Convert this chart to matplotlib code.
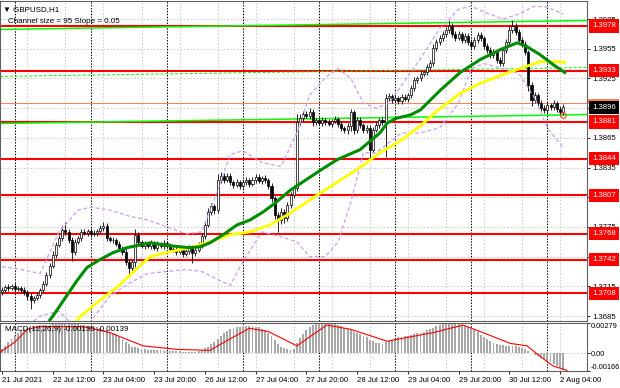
import numpy as np
import matplotlib.pyplot as plt
import matplotlib.transforms as mtransforms
from matplotlib.patches import Rectangle

plt.rcParams['font.family'] = ['Liberation Sans', 'DejaVu Sans']

# ---- data (GBPUSD H1, 21 Jul 20:00 .. 2 Aug 05:00) ----
first_open = 1.3709
closes = [
    1.3711, 1.3714, 1.3713, 1.3715, 1.3712, 1.3713, 1.3711, 1.3709, 1.3705, 1.3701,
    1.3703, 1.3706, 1.3711, 1.3717, 1.3726, 1.3736, 1.3747, 1.3757, 1.3764, 1.3772,
    1.3770, 1.3762, 1.3750, 1.3760, 1.3764, 1.3770, 1.3769, 1.3771, 1.3768, 1.3769,
    1.3771, 1.3774, 1.3776, 1.3764, 1.3762, 1.3762, 1.3758, 1.3754, 1.3750, 1.3740,
    1.3734, 1.3740, 1.3767, 1.3760, 1.3756, 1.3758, 1.3756, 1.3759, 1.3754, 1.3758,
    1.3756, 1.3759, 1.3756, 1.3753, 1.3752, 1.3750, 1.3752, 1.3748, 1.3751, 1.3754,
    1.3749, 1.3752, 1.3757, 1.3766, 1.3777, 1.3790, 1.3796, 1.3792, 1.3822, 1.3826,
    1.3822, 1.3826, 1.3820, 1.3817, 1.3820, 1.3816, 1.3820, 1.3822, 1.3818, 1.3822,
    1.3825, 1.3821, 1.3824, 1.3822, 1.3816, 1.3804, 1.3787, 1.3782, 1.3790, 1.3784,
    1.3797, 1.3807, 1.3814, 1.3881, 1.3885, 1.3889, 1.3887, 1.3891, 1.3881, 1.3883,
    1.3880, 1.3883, 1.3881, 1.3879, 1.3882, 1.3884, 1.3879, 1.3875, 1.3873, 1.3877,
    1.3891, 1.3873, 1.3883, 1.3878, 1.3873, 1.3875, 1.3853, 1.3873, 1.3878, 1.3883,
    1.3881, 1.3905, 1.3907, 1.3903, 1.3905, 1.3902, 1.3906, 1.3904, 1.3908, 1.3915,
    1.3923, 1.3925, 1.3929, 1.3931, 1.3937, 1.3941, 1.3956, 1.3962, 1.3966, 1.3970,
    1.3974, 1.3978, 1.3970, 1.3966, 1.3970, 1.3964, 1.3968, 1.3962, 1.3958, 1.3964,
    1.3969, 1.3966, 1.3958, 1.3954, 1.3949, 1.3952, 1.3944, 1.3941, 1.3954, 1.3962,
    1.3974, 1.3978, 1.3972, 1.3964, 1.3960, 1.3952, 1.3918, 1.3903, 1.3908, 1.3900,
    1.3895, 1.3893, 1.3898, 1.3896, 1.3900, 1.3894, 1.3891, 1.3896,
]
# wick lengths beyond the body, in pips
wick_up = [
    3, 2, 3, 2, 3, 2, 2, 3, 2, 3,  2, 3, 2, 3, 3, 3, 4, 3, 3, 4,
    8, 3, 3, 3, 2, 3, 3, 2, 3, 3,  2, 3, 4, 3, 2, 3, 2, 3, 2, 3,
    3, 2, 6, 3, 2, 3, 2, 3, 2, 3,  2, 3, 2, 3, 2, 3, 2, 3, 2, 3,
    3, 2, 3, 3, 3, 4, 3, 2, 6, 4,  3, 3, 3, 2, 3, 2, 3, 3, 2, 3,
    3, 3, 2, 3, 2, 3, 2, 3, 4, 3,  3, 3, 3, 8, 4, 3, 3, 4, 3, 2,
    3, 3, 2, 3, 2, 3, 2, 3, 2, 3,  3, 2, 3, 3, 2, 3, 3, 3, 3, 2,
    3, 4, 3, 2, 3, 2, 3, 3, 2, 3,  3, 2, 3, 3, 3, 3, 4, 3, 3, 3,
    3, 6, 3, 3, 3, 2, 3, 3, 3, 3,  3, 3, 2, 3, 3, 3, 2, 3, 3, 3,
    4, 6, 3, 3, 3, 3, 2, 3, 3, 2,  3, 3, 3, 2, 3, 2, 3, 3,
]
wick_dn = [
    3, 2, 3, 2, 3, 2, 3, 3, 4, 9,  3, 2, 3, 2, 2, 3, 2, 3, 2, 3,
    3, 3, 9, 3, 2, 3, 2, 3, 3, 2,  3, 2, 3, 3, 2, 3, 2, 3, 3, 3,
    9, 3, 5, 3, 2, 3, 2, 3, 2, 3,  2, 3, 2, 3, 2, 3, 2, 3, 2, 3,
    10, 3, 2, 3, 3, 2, 3, 4, 3, 3, 3, 2, 3, 3, 2, 3, 2, 3, 3, 2,
    3, 2, 3, 3, 3, 4, 4, 12, 4, 5, 3, 3, 3, 3, 3, 3, 2, 3, 4, 3,
    2, 3, 3, 2, 3, 2, 3, 3, 3, 4,  5, 4, 3, 3, 3, 3, 8, 3, 2, 3,
    3, 35, 3, 3, 2, 3, 3, 2, 3, 3, 3, 3, 3, 2, 3, 3, 3, 3, 3, 3,
    3, 3, 3, 3, 2, 3, 3, 3, 3, 3,  3, 3, 3, 3, 3, 3, 3, 3, 3, 3,
    3, 3, 3, 3, 3, 3, 6, 6, 3, 3,  3, 3, 3, 3, 3, 3, 4, 3,
]

# moving averages, sampled along the drawn lines (bar index, price)
green_bar = [15.1, 16.7, 20.5, 23.7, 26.8, 30.9, 35.0, 39.4, 46.7, 53.0, 59.3, 62.5,
             65.6, 69.7, 74.1, 78.2, 82.3, 86.1, 90.9, 100.3, 105.7, 112.9, 119.2,
             121.5, 124.6, 128.7, 131.9, 138.2, 144.5, 150.8, 157.1, 162.5, 165.6,
             169.7, 173.8, 177.5]
green_ma = [1.3681, 1.3688, 1.3706, 1.3721, 1.3734, 1.3742, 1.3749, 1.3754, 1.3759,
            1.3756, 1.3754, 1.3755, 1.3759, 1.3767, 1.3777, 1.3782, 1.3790, 1.3799,
            1.3812, 1.3832, 1.3843, 1.3853, 1.3870, 1.3880, 1.3885, 1.3888, 1.3893,
            1.3913, 1.3931, 1.3944, 1.3954, 1.3961, 1.3957, 1.3949, 1.3939, 1.3931]
yellow_bar = [23.7, 25.2, 30.9, 36.3, 42.6, 46.7, 53.0, 59.3, 65.6, 71.9, 78.2, 84.5,
              90.9, 100.3, 106.6, 112.9, 119.2, 125.6, 131.9, 137.2, 144.5, 150.8,
              157.1, 163.4, 169.7, 175.1, 177.5]
yellow_ma = [1.3681, 1.3686, 1.3701, 1.3714, 1.3733, 1.3745, 1.3750, 1.3754, 1.3760,
             1.3767, 1.3770, 1.3777, 1.3789, 1.3809, 1.3822, 1.3835, 1.3850, 1.3862,
             1.3877, 1.3892, 1.3910, 1.3920, 1.3928, 1.3935, 1.3942, 1.3942, 1.3941]

# bollinger envelope (dashed purple)
bb_bar = [0, 6, 12, 18, 24, 28, 34, 40, 46, 52, 58, 63, 68, 72, 76, 82, 88, 93, 97,
          102, 106, 110, 114, 118, 122, 126, 132, 138, 144, 148, 152, 158, 163, 168,
          172, 177]
bb_upper = [1.3735, 1.3732, 1.3728, 1.3770, 1.3792, 1.3795, 1.3792, 1.3786, 1.3782,
            1.3775, 1.3768, 1.3770, 1.3812, 1.3848, 1.3852, 1.3840, 1.3836, 1.3870,
            1.3908, 1.3926, 1.3935, 1.3925, 1.3900, 1.3895, 1.3900, 1.3918, 1.3945,
            1.3975, 1.3995, 1.3998, 1.3992, 1.3985, 1.3990, 1.3998, 1.3997, 1.3990]
bb_lower = [1.3660, 1.3670, 1.3685, 1.3690, 1.3670, 1.3680, 1.3705, 1.3718, 1.3728,
            1.3730, 1.3732, 1.3730, 1.3722, 1.3716, 1.3740, 1.3770, 1.3765, 1.3760,
            1.3745, 1.3745, 1.3760, 1.3800, 1.3850, 1.3850, 1.3860, 1.3870, 1.3870,
            1.3875, 1.3900, 1.3935, 1.3940, 1.3935, 1.3930, 1.3905, 1.3875, 1.3855]

# regression channel ends (bar, middle price) and half width
chan_bar = [-0.6, 184.5]
chan_mid = [1.3927, 1.3936]
chan_half = 0.00475

levels = [1.3978, 1.3933, 1.3881, 1.3844, 1.3807, 1.3768, 1.3742, 1.3708]
bid = 1.3896
ask_line = 1.3900
price_ticks = [1.3985, 1.3955, 1.3925, 1.3895, 1.3865, 1.3835, 1.3805, 1.3775,
               1.3745, 1.3715, 1.3685]
hidden_ticks = [1.3895, 1.3805, 1.3745]   # covered by the coloured price boxes

# MACD main in 1e-5 units, one value per bar
macd_e5 = [
    40, 70, 100, 130, 160, 185, 210, 225, 235, 242,
    248, 252, 256, 258, 262, 265, 268, 271, 273, 275,
    276, 274, 270, 268, 266, 262, 258, 254, 250, 245,
    240, 232, 224, 212, 198, 182, 166, 148, 128, 105,
    80, 60, 52, 45, 40, 36, 32, 30, 28, 26,
    25, 24, 22, 20, 18, 16, 15, 14, 12, 12,
    12, 14, 20, 30, 45, 60, 80, 100, 130, 160,
    185, 205, 220, 232, 240, 246, 250, 252, 252, 250,
    246, 240, 228, 210, 185, 160, 120, 85, 60, 45,
    35, 30, 35, 90, 140, 180, 215, 240, 258, 270,
    280, 285, 286, 284, 278, 270, 260, 248, 235, 222,
    212, 200, 188, 175, 162, 150, 120, 108, 98, 90,
    86, 100, 115, 125, 135, 145, 152, 158, 162, 168,
    175, 182, 190, 200, 210, 222, 236, 248, 258, 266,
    272, 275, 278, 276, 270, 262, 252, 240, 226, 210,
    192, 172, 150, 128, 110, 95, 85, 78, 72, 70,
    70, 68, 64, 58, 50, 40, 18, 0, -15, -30,
    -45, -58, -72, -86, -100, -118, -135, -155,
]
signal_bar = [-0.6, 4, 8, 12, 25.6, 34, 44.5, 55, 65.6, 70, 78, 84, 93, 97, 102.5,
              110, 121.5, 128.7, 136, 145.4, 151.7, 160.3, 165.6, 169.7, 173.8, 178.2]
signal_e5 = [10, 100, 220, 245, 245, 190, 67, 35, 25, 100, 230, 200, 67, 150, 260,
             220, 110, 150, 190, 260, 190, 90, 67, -30, -120, -160]

time_bars = [0, 16, 32, 48, 64, 80, 96, 112, 128, 144, 160, 176]
time_labels = ["21 Jul 2021", "22 Jul 12:00", "23 Jul 04:00", "23 Jul 20:00",
               "26 Jul 12:00", "27 Jul 04:00", "27 Jul 20:00", "28 Jul 12:00",
               "29 Jul 04:00", "29 Jul 20:00", "30 Jul 12:00", "2 Aug 04:00"]
day_starts = [4, 28, 52, 76, 100, 124, 148, 172]
grid_bars = [8, 20, 32, 44, 56, 68, 80, 92, 104, 116, 128, 140, 152, 164, 176]

# ---- figure ----
W, H = 620, 388
fig = plt.figure(figsize=(W / 100, H / 100), dpi=100)
ax = fig.add_axes([0, 1 - 321 / H, 587 / W, 320 / H])
ax2 = fig.add_axes([0, 1 - 371 / H, 587 / W, 48 / H], sharex=ax)

n = len(closes)
x = np.arange(n)
c = np.array(closes)
o = np.concatenate([[first_open], c[:-1]])
hi = np.maximum(o, c) + np.array(wick_up) * 0.0001
lo = np.minimum(o, c) - np.array(wick_dn) * 0.0001

grid_kw = dict(color='#c8c8c8', lw=0.6, ls=(0, (2, 2)), zorder=0)
for a in (ax, ax2):
    for g in grid_bars:
        a.axvline(g, **grid_kw)
    for d in day_starts:
        a.axvline(d, color='black', lw=0.7, ls=(0, (1.5, 1.5)), zorder=0.5)
for p in price_ticks:
    ax.axhline(p, **grid_kw)
ax2.axhline(0, **grid_kw)

# levels and channel
for lv in levels:
    ax.axhline(lv, color='#ff0000', lw=1.5, zorder=1)
ax.axhline(ask_line, color='#ff7f50', lw=0.7, zorder=1)
cm = np.array(chan_mid)
ax.plot(chan_bar, cm + chan_half, color='#00ff00', lw=1.1, zorder=1.2)
ax.plot(chan_bar, cm - chan_half, color='#00ff00', lw=1.1, zorder=1.2)
ax.plot(chan_bar, cm, color='#00ff00', lw=0.7, ls=(0, (3, 2)), zorder=1.2)

# candles
ax.vlines(x, lo, hi, color='black', lw=0.6, zorder=2)
body_lo = np.minimum(o, c)
body_h = np.maximum(np.abs(c - o), 0.00003)
fill = ['white' if cc >= oo else 'black' for oo, cc in zip(o, c)]
ax.bar(x, body_h, bottom=body_lo, width=0.65, color=fill, edgecolor='black',
       linewidth=0.5, zorder=2.1)

# indicators
ax.plot(bb_bar, bb_upper, color='#c9a0f0', lw=0.9, ls=(0, (3, 2)), zorder=3)
ax.plot(bb_bar, bb_lower, color='#c9a0f0', lw=0.9, ls=(0, (3, 2)), zorder=3)
ax.plot(yellow_bar, yellow_ma, color='#ffff00', lw=2.0, zorder=3.2)
ax.plot(green_bar, green_ma, color='#008c00', lw=2.2, zorder=3.3)
ax.plot([n - 1], [1.3888], marker='o', ms=4, mfc='none', mec='#ff5030', mew=0.8,
        zorder=4)

ax.set_xlim(-0.63, 184.5)
ax.set_ylim(1.36800, 1.40032)

# right-hand price scale
ax.yaxis.tick_right()
ax.set_yticks(price_ticks)
ax.set_yticklabels(["" if p in hidden_ticks else f"{p:.4f}" for p in price_ticks])
ax.tick_params(axis='y', length=2.5, pad=1.5, labelsize=5.6, width=0.6)
ax.tick_params(axis='x', bottom=False, labelbottom=False)

tr = mtransforms.blended_transform_factory(ax.transAxes, ax.transData)
ax.add_patch(Rectangle((1.002, ask_line - 0.00005), 0.052, 0.0005, transform=tr,
                       fc='#ff7f50', ec='none', clip_on=False, zorder=4.5))
for lv in levels:
    ax.text(1.0085, lv, f"{lv:.4f}", transform=tr, ha='left', va='center',
            fontsize=5.6, color='white', clip_on=False, zorder=5,
            bbox=dict(boxstyle='square,pad=0.4', fc='#ff0000', ec='none'))
ax.text(1.0085, bid, f"{bid:.4f}", transform=tr, ha='left', va='center',
        fontsize=5.6, color='white', clip_on=False, zorder=6,
        bbox=dict(boxstyle='square,pad=0.4', fc='black', ec='none'))

ax.text(0.005, 0.985, "\u25bc GBPUSD,H1", transform=ax.transAxes, fontsize=5.8,
        va='top', ha='left', zorder=6)
ax.text(0.013, 0.948, "Channel size = 95 Slope = 0.05", transform=ax.transAxes,
        fontsize=5.8, va='top', ha='left', zorder=6)

# MACD panel
macd = np.array(macd_e5) * 1e-5
ax2.bar(x, macd, width=0.6, color='#a8a8a8', zorder=2)
ax2.plot(signal_bar, np.array(signal_e5) * 1e-5, color='#ff0000', lw=0.8, zorder=3)
ax2.set_ylim(-0.00166, 0.00279)
ax2.yaxis.tick_right()
ax2.set_yticks([0.00279, 0.0, -0.00166])
ax2.set_yticklabels(["0.00279", "0.00", "-0.00166"])
ax2.tick_params(axis='y', length=2.0, pad=1.0, labelsize=5.3, width=0.6)
lbls = ax2.get_yticklabels()
lbls[0].set_va('top')
lbls[2].set_va('bottom')
ax2.text(0.008, 0.93, "MACD(12,26,9) -0.00135 -0.00139", transform=ax2.transAxes,
         fontsize=5.8, va='top', ha='left', zorder=6)

ax2.set_xticks(time_bars)
ax2.set_xticklabels(time_labels)
ax2.tick_params(axis='x', length=2.5, pad=1.5, labelsize=5.6, width=0.6)
for t in ax2.get_xticklabels():
    t.set_ha('left')

for a in (ax, ax2):
    for s in a.spines.values():
        s.set_color('#606060')
        s.set_linewidth(0.8)

fig.savefig('out.png', dpi=100)
